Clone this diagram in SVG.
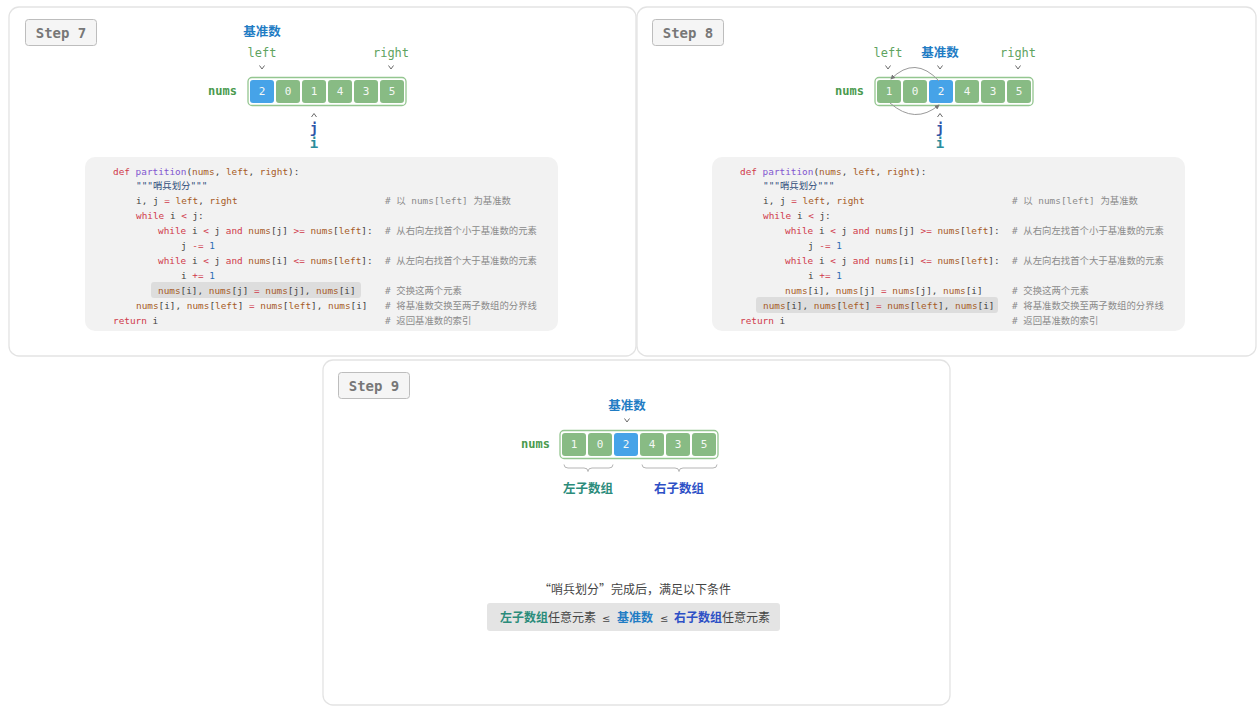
<svg xmlns="http://www.w3.org/2000/svg" width="1257" height="706" viewBox="0 0 1257 706">
<style>
.panel{fill:#fff;stroke:#e3e3e3;stroke-width:1.3}
.steprect{fill:#f5f5f5;stroke:#bdbdbd;stroke-width:1}
.steptxt{font-family:"DejaVu Sans Mono","Liberation Mono",monospace;font-weight:bold;font-size:14px;fill:#777;text-anchor:middle}
.pivot{font-family:"Noto Sans CJK SC",sans-serif;font-weight:bold;font-size:12.5px;fill:#1f7cc4;text-anchor:middle}
.ptr{font-family:"DejaVu Sans Mono","Liberation Mono",monospace;font-size:12px;fill:#5fa35f;text-anchor:middle}
.numsl{font-family:"DejaVu Sans Mono","Liberation Mono",monospace;font-weight:bold;font-size:12px;fill:#4a9a4e;text-anchor:end}
.box{fill:#fff;stroke:#94c690;stroke-width:1.3}
.cg{fill:#88bb84}
.cb{fill:#46a3e8}
.cv{font-family:"DejaVu Sans Mono","Liberation Mono",monospace;font-size:11px;fill:#f4f8f4;text-anchor:middle}
.chev{fill:none;stroke:#6a6a6a;stroke-width:1}
.jl{font-family:"DejaVu Sans Mono","Liberation Mono",monospace;font-weight:bold;font-size:14px;fill:#2f55a8;text-anchor:middle}
.il{font-family:"DejaVu Sans Mono","Liberation Mono",monospace;font-weight:bold;font-size:14px;fill:#2b8d9c;text-anchor:middle}
.codebg{fill:#f2f2f2}
.hl{fill:#dddddd}
.code{font-family:"DejaVu Sans Mono","Liberation Mono","Noto Sans CJK SC",monospace;font-size:9.4px;fill:#444;white-space:pre}
.k{fill:#d0394a}
.f{fill:#8257d0}
.v{fill:#a65b26}
.n{fill:#2d6db5}
.s{fill:#2d4a78}
.c{fill:#8a8a8a}
.brace{fill:none;stroke:#b5b5b5;stroke-width:1}
.lsub{font-family:"Noto Sans CJK SC",sans-serif;font-weight:bold;font-size:12.5px;fill:#2b8c7b;text-anchor:middle}
.rsub{font-family:"Noto Sans CJK SC",sans-serif;font-weight:bold;font-size:12.5px;fill:#2d50c6;text-anchor:middle}
.note{font-family:"Noto Sans CJK SC",sans-serif;font-size:12px;fill:#444}
.le{font-family:"DejaVu Sans",sans-serif;font-size:10px;fill:#444}
.arc{fill:none;stroke:#9a9a9a;stroke-width:1}
</style>
<defs>
<marker id="ah" viewBox="0 0 6 6" refX="5" refY="3" markerWidth="5" markerHeight="5" orient="auto">
<path d="M0,0 L6,3 L0,6 z" fill="#777"/>
</marker>
</defs>

<!-- panels -->
<g id="panel7"><rect class="panel" x="9" y="7" width="627" height="349" rx="10"/></g>
<g id="panel8"><rect class="panel" x="637" y="7" width="619" height="349" rx="10"/></g>
<g id="panel9"><rect class="panel" x="323" y="360" width="627" height="345" rx="10"/></g>

<!-- Step 7 -->
<g id="step7">
<g id="step7-label"><rect class="steprect" x="25.5" y="19.5" width="71" height="26" rx="3"/><text class="steptxt" x="61" y="37.5">Step 7</text></g>
<text class="pivot" x="262" y="36">基准数</text>
<text class="ptr" x="262" y="56.5">left</text>
<text class="ptr" x="391" y="56.5">right</text>
<path class="chev" d="M259.5,65.5 L262,69 L264.5,65.5"/>
<path class="chev" d="M388.5,65.5 L391,69 L393.5,65.5"/>
<text class="numsl" x="237" y="95">nums</text>
<rect class="box" x="248" y="77.5" width="158" height="28" rx="4"/>
<rect class="cb" x="250" y="80" width="24" height="23" rx="3"/>
<rect class="cg" x="276" y="80" width="24" height="23" rx="3"/>
<rect class="cg" x="302" y="80" width="24" height="23" rx="3"/>
<rect class="cg" x="328" y="80" width="24" height="23" rx="3"/>
<rect class="cg" x="354" y="80" width="24" height="23" rx="3"/>
<rect class="cg" x="380" y="80" width="24" height="23" rx="3"/>
<text class="cv" x="262" y="95">2</text>
<text class="cv" x="288" y="95">0</text>
<text class="cv" x="314" y="95">1</text>
<text class="cv" x="340" y="95">4</text>
<text class="cv" x="366" y="95">3</text>
<text class="cv" x="392" y="95">5</text>
<path class="chev" d="M311.5,117 L314,113.5 L316.5,117"/>
<text class="jl" x="314" y="133">j</text>
<text class="il" x="314" y="148">i</text>
<rect class="codebg" x="85" y="157" width="473" height="174" rx="10"/>
<rect class="hl" x="151" y="282" width="210" height="16" rx="3"/>
<g class="code" xml:space="preserve">
<text x="113" y="174.5"><tspan class="k">def</tspan> <tspan class="f">partition</tspan>(<tspan class="v">nums</tspan>, <tspan class="v">left</tspan>, <tspan class="v">right</tspan>):</text>
<text x="136" y="189.4" class="s">"""哨兵划分"""</text>
<text x="136" y="204.3">i, j <tspan class="k">=</tspan> <tspan class="v">left</tspan>, <tspan class="v">right</tspan></text>
<text x="136" y="219.2"><tspan class="k">while</tspan> i <tspan class="k">&lt;</tspan> j:</text>
<text x="158" y="234.1"><tspan class="k">while</tspan> i <tspan class="k">&lt;</tspan> j <tspan class="k">and</tspan> <tspan class="v">nums</tspan>[j] <tspan class="k">&gt;=</tspan> <tspan class="v">nums</tspan>[<tspan class="v">left</tspan>]:</text>
<text x="181" y="249">j <tspan class="k">-=</tspan> <tspan class="n">1</tspan></text>
<text x="158" y="263.9"><tspan class="k">while</tspan> i <tspan class="k">&lt;</tspan> j <tspan class="k">and</tspan> <tspan class="v">nums</tspan>[i] <tspan class="k">&lt;=</tspan> <tspan class="v">nums</tspan>[<tspan class="v">left</tspan>]:</text>
<text x="181" y="278.8">i <tspan class="k">+=</tspan> <tspan class="n">1</tspan></text>
<text x="158" y="293.7"><tspan class="v">nums</tspan>[i], <tspan class="v">nums</tspan>[j] <tspan class="k">=</tspan> <tspan class="v">nums</tspan>[j], <tspan class="v">nums</tspan>[i]</text>
<text x="136" y="308.6"><tspan class="v">nums</tspan>[i], <tspan class="v">nums</tspan>[<tspan class="v">left</tspan>] <tspan class="k">=</tspan> <tspan class="v">nums</tspan>[<tspan class="v">left</tspan>], <tspan class="v">nums</tspan>[i]</text>
<text x="113" y="323.5"><tspan class="k">return</tspan> i</text>
<text x="385" y="204.3" class="c"># 以 nums[left] 为基准数</text>
<text x="385" y="234.1" class="c"># 从右向左找首个小于基准数的元素</text>
<text x="385" y="263.9" class="c"># 从左向右找首个大于基准数的元素</text>
<text x="385" y="293.7" class="c"># 交换这两个元素</text>
<text x="385" y="308.6" class="c"># 将基准数交换至两子数组的分界线</text>
<text x="385" y="323.5" class="c"># 返回基准数的索引</text>
</g>
</g>

<!-- Step 8 -->
<g id="step8">
<g id="step8-label"><rect class="steprect" x="652.5" y="19.5" width="71" height="26" rx="3"/><text class="steptxt" x="688" y="37.5">Step 8</text></g>
<text class="ptr" x="888" y="56.5">left</text>
<text class="pivot" x="940" y="56.5">基准数</text>
<text class="ptr" x="1018" y="56.5">right</text>
<path class="chev" d="M885.5,65.5 L888,69 L890.5,65.5"/>
<path class="chev" d="M937.5,65.5 L940,69 L942.5,65.5"/>
<path class="chev" d="M1015.5,65.5 L1018,69 L1020.5,65.5"/>
<text class="numsl" x="864" y="95">nums</text>
<rect class="box" x="875" y="77.5" width="158" height="28" rx="4"/>
<rect class="cg" x="877" y="80" width="24" height="23" rx="3"/>
<rect class="cg" x="903" y="80" width="24" height="23" rx="3"/>
<rect class="cb" x="929" y="80" width="24" height="23" rx="3"/>
<rect class="cg" x="955" y="80" width="24" height="23" rx="3"/>
<rect class="cg" x="981" y="80" width="24" height="23" rx="3"/>
<rect class="cg" x="1007" y="80" width="24" height="23" rx="3"/>
<text class="cv" x="889" y="95">1</text>
<text class="cv" x="915" y="95">0</text>
<text class="cv" x="941" y="95">2</text>
<text class="cv" x="967" y="95">4</text>
<text class="cv" x="993" y="95">3</text>
<text class="cv" x="1019" y="95">5</text>
<path class="chev" d="M937.5,117 L940,113.5 L942.5,117"/>
<text class="jl" x="940" y="133">j</text>
<text class="il" x="940" y="148">i</text>
<rect class="codebg" x="712" y="157" width="473" height="174" rx="10"/>
<rect class="hl" x="756" y="297" width="242" height="16" rx="3"/>
<g class="code" xml:space="preserve">
<text x="740" y="174.5"><tspan class="k">def</tspan> <tspan class="f">partition</tspan>(<tspan class="v">nums</tspan>, <tspan class="v">left</tspan>, <tspan class="v">right</tspan>):</text>
<text x="763" y="189.4" class="s">"""哨兵划分"""</text>
<text x="763" y="204.3">i, j <tspan class="k">=</tspan> <tspan class="v">left</tspan>, <tspan class="v">right</tspan></text>
<text x="763" y="219.2"><tspan class="k">while</tspan> i <tspan class="k">&lt;</tspan> j:</text>
<text x="785" y="234.1"><tspan class="k">while</tspan> i <tspan class="k">&lt;</tspan> j <tspan class="k">and</tspan> <tspan class="v">nums</tspan>[j] <tspan class="k">&gt;=</tspan> <tspan class="v">nums</tspan>[<tspan class="v">left</tspan>]:</text>
<text x="808" y="249">j <tspan class="k">-=</tspan> <tspan class="n">1</tspan></text>
<text x="785" y="263.9"><tspan class="k">while</tspan> i <tspan class="k">&lt;</tspan> j <tspan class="k">and</tspan> <tspan class="v">nums</tspan>[i] <tspan class="k">&lt;=</tspan> <tspan class="v">nums</tspan>[<tspan class="v">left</tspan>]:</text>
<text x="808" y="278.8">i <tspan class="k">+=</tspan> <tspan class="n">1</tspan></text>
<text x="785" y="293.7"><tspan class="v">nums</tspan>[i], <tspan class="v">nums</tspan>[j] <tspan class="k">=</tspan> <tspan class="v">nums</tspan>[j], <tspan class="v">nums</tspan>[i]</text>
<text x="763" y="308.6"><tspan class="v">nums</tspan>[i], <tspan class="v">nums</tspan>[<tspan class="v">left</tspan>] <tspan class="k">=</tspan> <tspan class="v">nums</tspan>[<tspan class="v">left</tspan>], <tspan class="v">nums</tspan>[i]</text>
<text x="740" y="323.5"><tspan class="k">return</tspan> i</text>
<text x="1012" y="204.3" class="c"># 以 nums[left] 为基准数</text>
<text x="1012" y="234.1" class="c"># 从右向左找首个小于基准数的元素</text>
<text x="1012" y="263.9" class="c"># 从左向右找首个大于基准数的元素</text>
<text x="1012" y="293.7" class="c"># 交换这两个元素</text>
<text x="1012" y="308.6" class="c"># 将基准数交换至两子数组的分界线</text>
<text x="1012" y="323.5" class="c"># 返回基准数的索引</text>
</g>
</g>

<!-- connectors: swap arcs in Step 8 -->
<g id="connectors">
<path class="arc" d="M939,81 Q915,55 891,79" marker-end="url(#ah)"/>
<path class="arc" d="M890,103 Q915,125 939,105" marker-end="url(#ah)"/>
</g>

<!-- Step 9 -->
<g id="step9">
<g id="step9-label"><rect class="steprect" x="338.5" y="372.5" width="71" height="26" rx="3"/><text class="steptxt" x="374" y="390.5">Step 9</text></g>
<text class="pivot" x="627" y="410">基准数</text>
<path class="chev" d="M624.5,418.5 L627,422 L629.5,418.5"/>
<text class="numsl" x="550" y="448">nums</text>
<rect class="box" x="560" y="430.5" width="158" height="28" rx="4"/>
<rect class="cg" x="562" y="433" width="24" height="23" rx="3"/>
<rect class="cg" x="588" y="433" width="24" height="23" rx="3"/>
<rect class="cb" x="614" y="433" width="24" height="23" rx="3"/>
<rect class="cg" x="640" y="433" width="24" height="23" rx="3"/>
<rect class="cg" x="666" y="433" width="24" height="23" rx="3"/>
<rect class="cg" x="692" y="433" width="24" height="23" rx="3"/>
<text class="cv" x="574" y="448">1</text>
<text class="cv" x="600" y="448">0</text>
<text class="cv" x="626" y="448">2</text>
<text class="cv" x="652" y="448">4</text>
<text class="cv" x="678" y="448">3</text>
<text class="cv" x="704" y="448">5</text>
<path class="brace" d="M564,464.5 Q564,468 568,468 L584,468 Q588,468 588,471.5 Q588,468 592,468 L609,468 Q613,468 613,464.5"/>
<path class="brace" d="M642,464.5 Q642,468 646,468 L675,468 Q679,468 679,471.5 Q679,468 683,468 L713,468 Q717,468 717,464.5"/>
<text class="lsub" x="588" y="493">左子数组</text>
<text class="rsub" x="679" y="493">右子数组</text>
<text class="note" x="635" y="593.5" text-anchor="middle">“哨兵划分”完成后，满足以下条件</text>
<rect x="487" y="603" width="293" height="28" rx="3" fill="#e4e4e4"/>
<text class="note" x="500" y="621.5"><tspan font-weight="bold" fill="#2b8c7b">左子数组</tspan>任意元素<tspan class="le" x="602">≤</tspan><tspan x="617" font-weight="bold" fill="#1f7cc4">基准数</tspan><tspan class="le" x="660">≤</tspan><tspan x="674" font-weight="bold" fill="#2d50c6">右子数组</tspan>任意元素</text>
</g>
</svg>
